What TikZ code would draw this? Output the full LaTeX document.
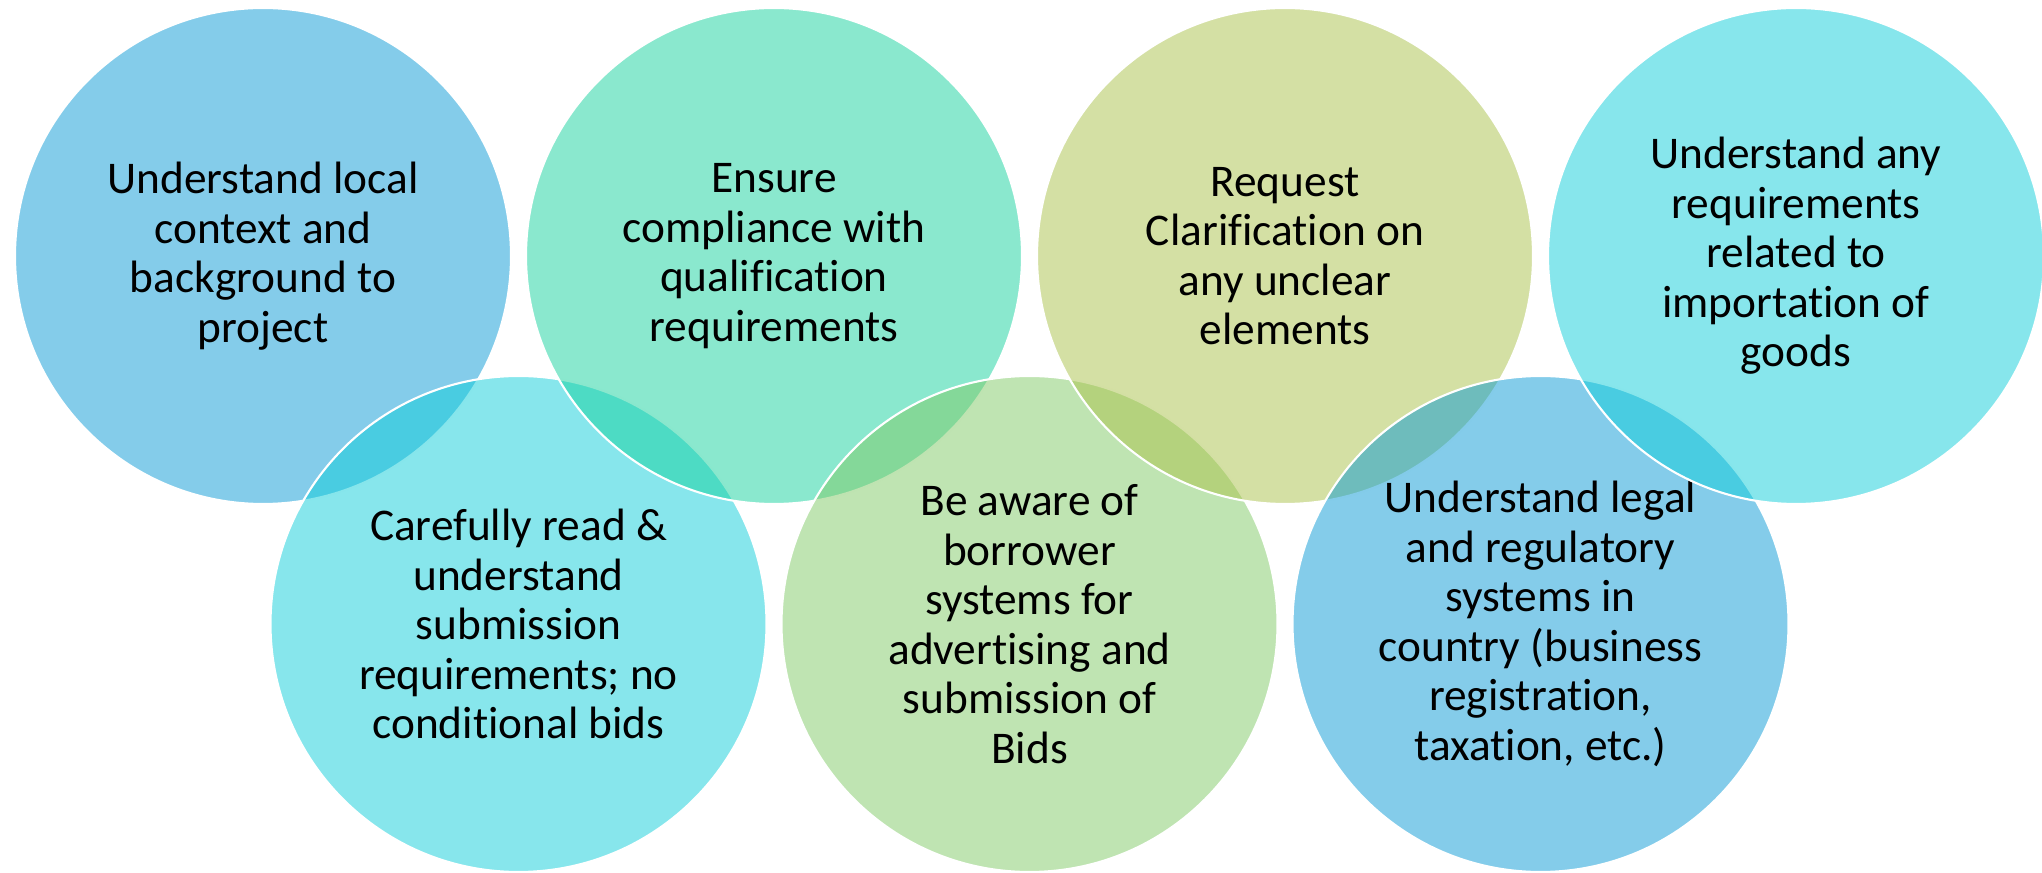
\documentclass[tikz,border=0pt]{standalone}
\usepackage{fontspec}
\setmainfont[Ligatures=NoCommon]{Carlito}
\usepackage{tikz}
\usepackage{xcolor}

\definecolor{skyblue}{RGB}{9,153,213}
\definecolor{mint}{RGB}{21,209,157}
\definecolor{olive}{RGB}{169,193,73}
\definecolor{aqua}{RGB}{15,205,217}
\definecolor{leaf}{RGB}{127,201,101}

\tikzset{
	ring/.style={circle, draw=white, line width=0.6pt, fill opacity=0.5, text opacity=1,
		minimum size=4.96cm, inner sep=0pt, align=center,
		font=\fontsize{12.9}{14.1}\selectfont}
}

\begin{document}
\begin{tikzpicture}
		\useasboundingbox (0,0) rectangle (20.42,8.72);
		
		\node (context) at (2.63,6.16) [ring, fill=skyblue] {Understand local\\context and\\background to\\project};
		\node (submission) at (5.185,2.48) [ring, fill=aqua] {Carefully read \&\\understand\\submission\\requirements; no\\conditional bids};
		\node (compliance) at (7.74,6.16) [ring, fill=mint] {Ensure\\compliance with\\qualification\\requirements};
		\node (borrower) at (10.295,2.48) [ring, fill=leaf] {Be aware of\\borrower\\systems for\\advertising and\\submission of\\Bids};
		\node (clarify) at (12.85,6.16) [ring, fill=olive] {Request\\Clarification on\\any unclear\\elements};
		\node (legal) at (15.405,2.48) [ring, fill=skyblue] {Understand legal\\and regulatory\\systems in\\country (business\\registration,\\taxation, etc.)};
		\node (import) at (17.96,6.16) [ring, fill=aqua] {Understand any\\requirements\\related to\\importation of\\goods};
	\end{tikzpicture}
\end{document}
